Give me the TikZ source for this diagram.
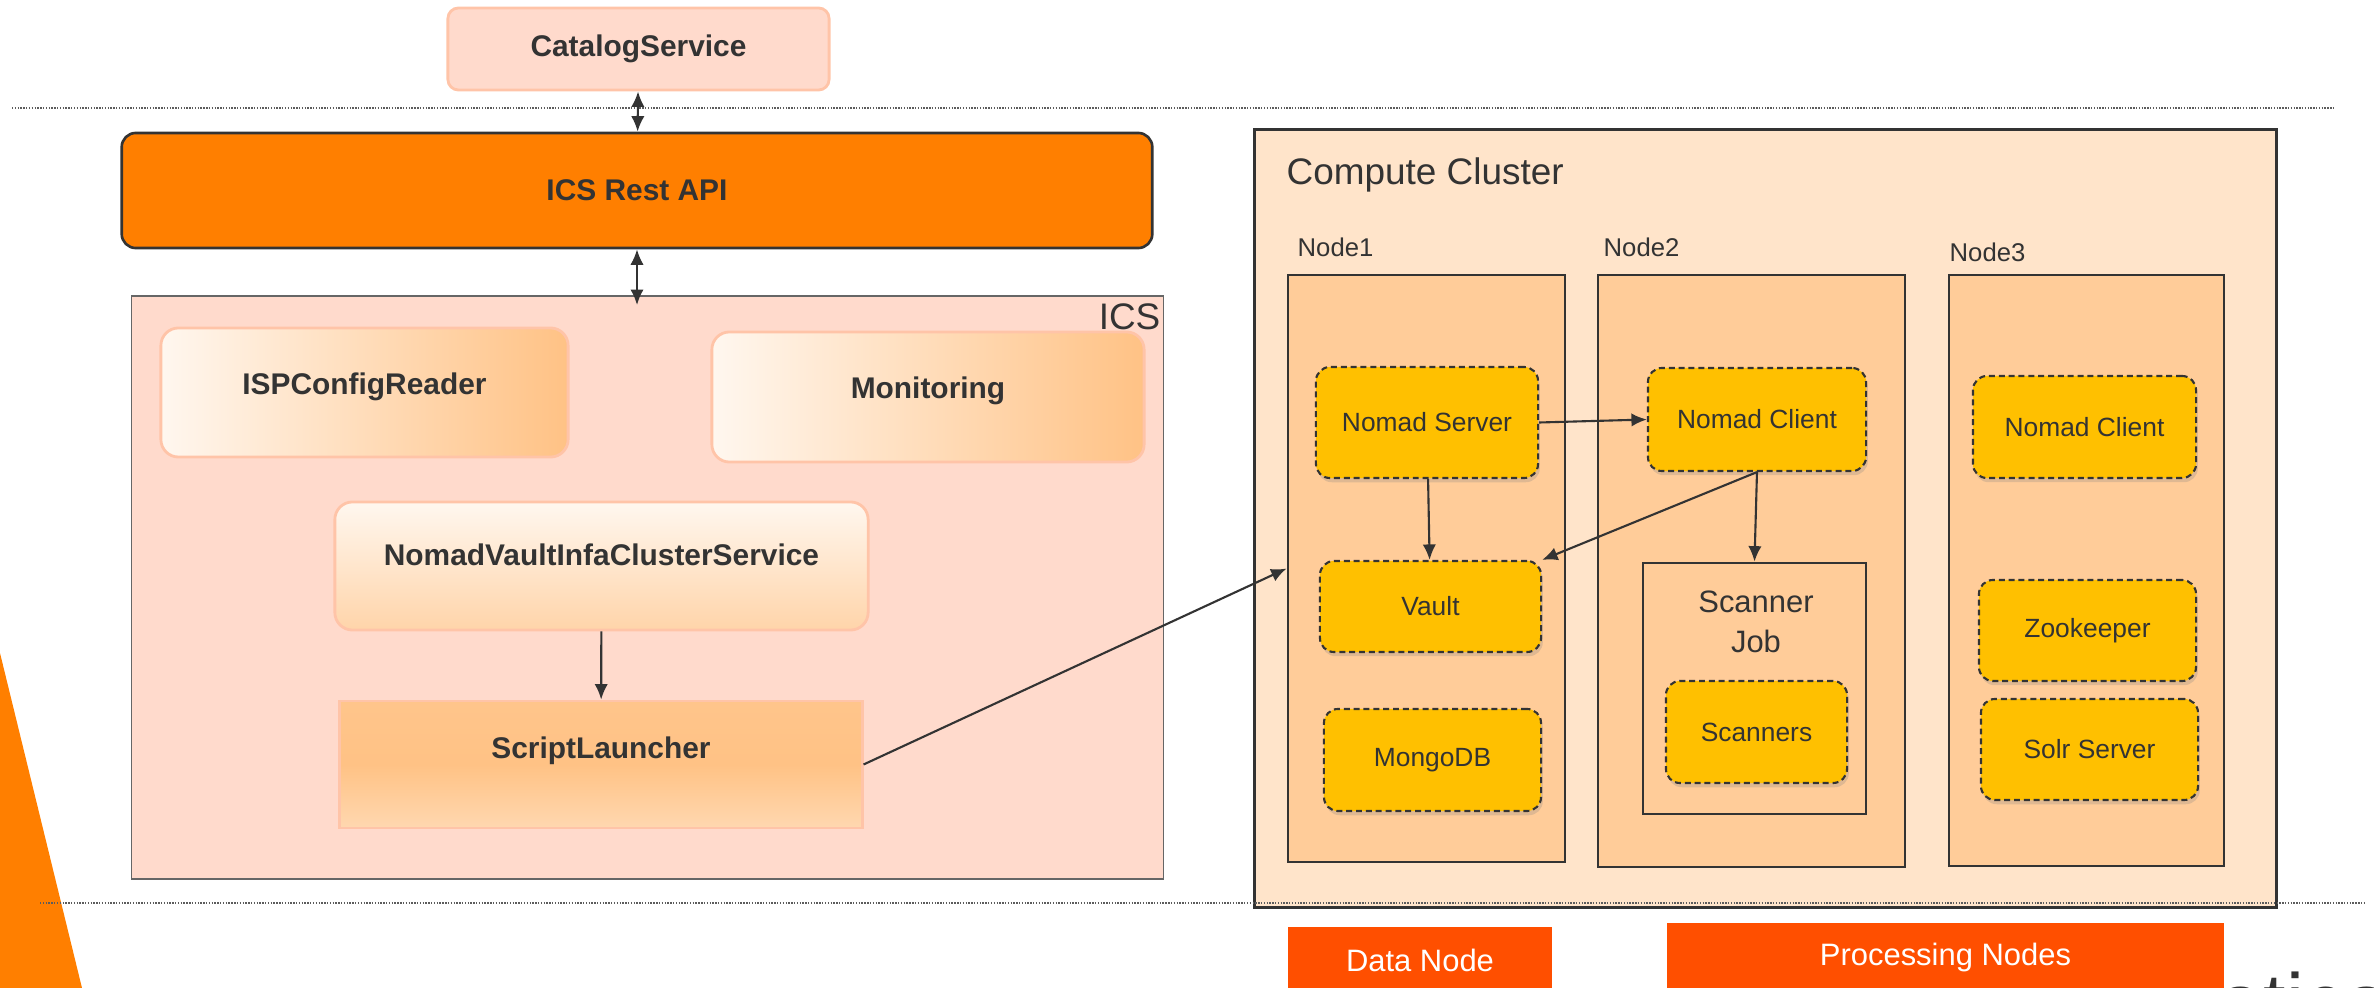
\documentclass[tikz,border=0pt]{standalone}
\usepackage{fontspec}
\setmainfont{Liberation Sans}
\usetikzlibrary{shadows,positioning,arrows.meta}
\definecolor{ink}{HTML}{333333}
\definecolor{salmon}{HTML}{FFDACC}
\definecolor{salmonline}{HTML}{FFC4A8}
\definecolor{apiorange}{HTML}{FF7F00}
\definecolor{peach}{HTML}{FFC285}
\definecolor{cream}{HTML}{FFF7EF}
\definecolor{clusterfill}{HTML}{FFE4CA}
\definecolor{hostfill}{HTML}{FFCC99}
\definecolor{compyellow}{HTML}{FFC000}
\definecolor{tagred}{HTML}{FF4F00}

\begin{document}
\begin{tikzpicture}[x=0.01cm,y=-0.01cm]
    \tikzset{BoxStyle/.style={rectangle, inner sep=0pt, text=ink, align=center},
      ServiceStyle/.style={BoxStyle, font=\fontsize{8.5}{10}\selectfont\bfseries,
        draw=salmonline, line width=0.8pt, rounded corners=5pt},
      HostStyle/.style={BoxStyle, fill=hostfill, draw=ink, line width=0.75pt},
      CompStyle/.style={BoxStyle, fill=compyellow, draw=ink, line width=0.6pt,
        dash pattern=on 1.7pt off 1.1pt, rounded corners=4pt,
        font=\fontsize{7.5}{9}\selectfont,
        drop shadow={opacity=0.25, shadow xshift=0.5pt, shadow yshift=-1.2pt}},
      TagStyle/.style={BoxStyle, fill=tagred, text=white, font=\fontsize{8.8}{10}\selectfont},
      LabelStyle/.style={inner sep=0pt, text=ink},
      EdgeStyle/.style={>={Latex[length=4.4pt,width=3.8pt]}, draw=ink, line width=0.6pt},
      RuleStyle/.style={draw=ink!80, line width=0.5pt, dash pattern=on 0.4pt off 0.4pt}}
    \useasboundingbox (0,0) rectangle (2374,988);
    \fill[apiorange] (0,653) -- (82,988) -- (0,988) -- cycle;

    \node[ServiceStyle, fill=salmon, rounded corners=3pt, minimum width=3.81cm, minimum height=0.82cm] (Catalog) at (638.5,49) {CatalogService};
    \node[ServiceStyle, fill=apiorange, draw=ink, line width=0.75pt, rounded corners=4pt, minimum width=10.30cm, minimum height=1.15cm] (RestAPI) at (637,190.5) {ICS Rest API};
    \node[BoxStyle, fill=salmon, draw=ink!75, line width=0.4pt, minimum width=10.31cm, minimum height=5.83cm] (ICS) at (647.5,587.5) {};
    \coordinate (ICSTop) at (637,305);
    \node[LabelStyle, anchor=base east, font=\fontsize{10.5}{12}\selectfont] (ICSLabel) at (1161,330) {ICS};
    \node[ServiceStyle, left color=cream, right color=peach, text depth=5pt, minimum width=4.07cm, minimum height=1.29cm] (Reader) at (364.5,392.5) {ISPConfigReader};
    \node[ServiceStyle, left color=cream, right color=peach, text depth=5.5pt, minimum width=4.32cm, minimum height=1.30cm] (Monitor) at (928,397) {Monitoring};
    \node[ServiceStyle, top color=cream, bottom color=peach!70!white, text depth=6.5pt, minimum width=5.33cm, minimum height=1.28cm] (NVICS) at (601.5,566) {NomadVaultInfaClusterService};
    \node[ServiceStyle, rounded corners=0pt, top color=peach!95!white, bottom color=peach!65!white, middle color=peach, text depth=9.5pt, minimum width=5.22cm, minimum height=1.27cm] (Launcher) at (601,764.5) {ScriptLauncher};

    \node[BoxStyle, fill=clusterfill, draw=ink, line width=0.85pt, minimum width=10.21cm, minimum height=7.77cm] (Cluster) at (1765.5,518.5) {};
    \node[LabelStyle, anchor=base west, font=\fontsize{10.5}{12}\selectfont] (ClusterLabel) at (1286,185) {Compute Cluster};
    \node[HostStyle, minimum width=2.77cm, minimum height=5.87cm] (N1) at (1426.5,568.5) {};
    \node[HostStyle, minimum width=3.07cm, minimum height=5.92cm] (N2) at (1751.5,571) {};
    \node[HostStyle, minimum width=2.75cm, minimum height=5.91cm] (N3) at (2086.5,570.5) {};
    \node[LabelStyle, anchor=base west, font=\fontsize{7.3}{9}\selectfont] (N1Label) at (1297,257) {Node1};
    \node[LabelStyle, anchor=base west, font=\fontsize{7.3}{9}\selectfont] (N2Label) at (1603,257) {Node2};
    \node[LabelStyle, anchor=base west, font=\fontsize{7.3}{9}\selectfont] (N3Label) at (1949,262) {Node3};

    \node[CompStyle, minimum width=2.22cm, minimum height=1.11cm] (Server) at (1427,422.5) {Nomad Server};
    \node[CompStyle, minimum width=2.21cm, minimum height=0.91cm] (Vault) at (1430.5,606.5) {Vault};
    \node[CompStyle, minimum width=2.17cm, minimum height=1.02cm] (Mongo) at (1432.5,760) {MongoDB};
    \node[CompStyle, minimum width=2.18cm, minimum height=1.03cm] (ClientA) at (1757,419.5) {Nomad Client};
    \node[HostStyle, minimum width=2.23cm, minimum height=2.51cm] (Job) at (1754.5,688.5) {};
    \node[LabelStyle, align=center, font=\fontsize{8.8}{11.2}\selectfont] (JobLabel) at (1756,622) {Scanner\\Job};
    \node[CompStyle, minimum width=1.81cm, minimum height=1.02cm] (Scanners) at (1756.5,732) {Scanners};
    \node[CompStyle, minimum width=2.23cm, minimum height=1.02cm] (ClientB) at (2084.5,427) {Nomad Client};
    \node[CompStyle, minimum width=2.17cm, minimum height=1.01cm] (Zoo) at (2087.5,630.5) {Zookeeper};
    \node[CompStyle, minimum width=2.17cm, minimum height=1.01cm] (Solr) at (2089.5,749.5) {Solr Server};

    \draw[RuleStyle] (12,108) -- (2334,108);
    \draw[RuleStyle] (40,903) -- (2366,903);

    \node[LabelStyle, anchor=base west, font=\fontsize{23}{26}\selectfont] (Brand) at (2218,1030) {atica};
    \node[TagStyle, minimum width=2.64cm, minimum height=0.66cm] (Data) at (1420,960) {Data Node};
    \node[TagStyle, minimum width=5.57cm, minimum height=0.68cm] (Proc) at (1945.5,957) {Processing Nodes};

    \draw[EdgeStyle, <->] (Catalog) -- (RestAPI);
    \draw[EdgeStyle, <->] (RestAPI.south) -- (ICSTop);
    \draw[EdgeStyle, ->] (NVICS) -- (Launcher);
    \draw[EdgeStyle, ->] (Launcher.east) -- (N1.west);
    \draw[EdgeStyle, ->] (Server.east) -- (ClientA.west);
    \draw[EdgeStyle, ->] (Server) -- (Vault);
    \draw[EdgeStyle, ->] (ClientA.south) -- (Vault.north east);
    \draw[EdgeStyle, ->] (ClientA.south) -- (Job.north);
\end{tikzpicture}
\end{document}
